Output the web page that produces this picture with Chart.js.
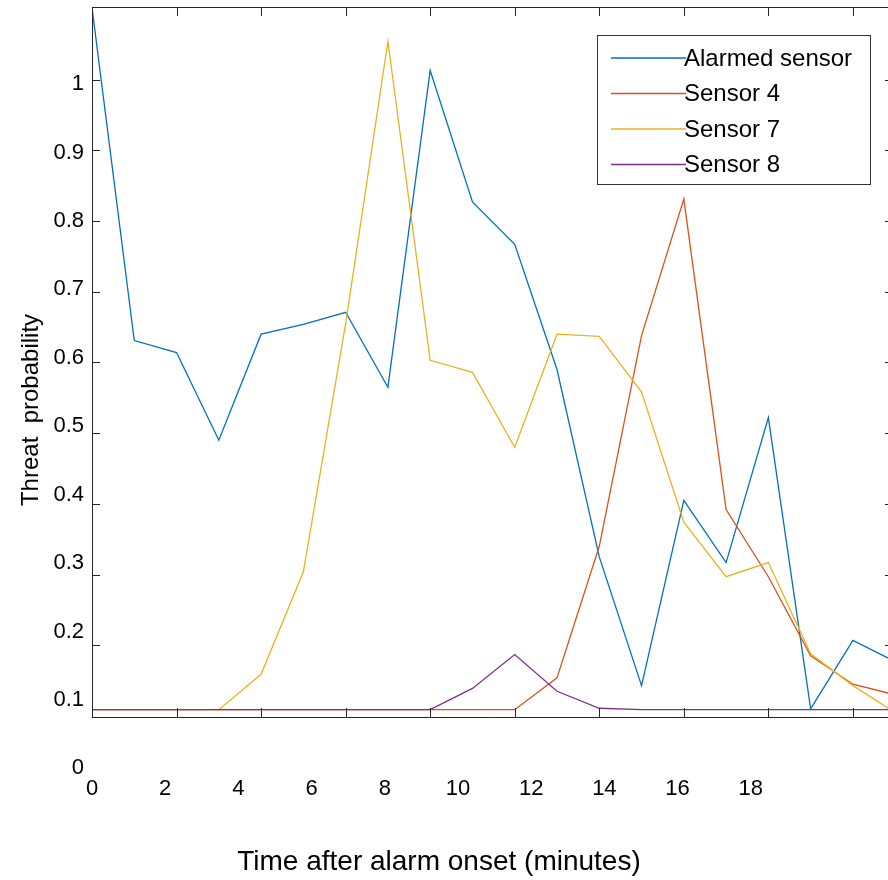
<!DOCTYPE html>
<html>
<head>
<meta charset="utf-8">
<script src="https://cdn.jsdelivr.net/npm/chart.js@4.4.1/dist/chart.umd.min.js"></script>
<style>
  body { margin: 0; background: #fff; }
  #wrap { width: 888px; height: 880px; }
</style>
</head>
<body>
<div id="wrap"><canvas id="myChart" width="888" height="880"></canvas></div>
<script>
// sample number along the time axis
var sampleIdx = [0, 1, 2, 3, 4, 5, 6, 7, 8, 9, 10, 11, 12, 13, 14, 15, 16, 17, 18, 19];

var seriesNames = ["Alarmed sensor", "Sensor 4", "Sensor 7", "Sensor 8"];
var seriesColors = ["#0072BD", "#D95319", "#EDB120", "#7E2F8E"];

var alarmed = [1.102, 0.631, 0.614, 0.490, 0.640, 0.654, 0.671, 0.565, 1.013, 0.827,
               0.767, 0.590, 0.325, 0.143, 0.405, 0.317, 0.522, 0.110, 0.207, 0.177];
var sensor4 = [0.109, 0.109, 0.109, 0.109, 0.109, 0.109, 0.109, 0.109, 0.109, 0.109,
               0.109, 0.154, 0.340, 0.638, 0.831, 0.392, 0.297, 0.185, 0.145, 0.130];
var sensor7 = [0.109, 0.109, 0.109, 0.109, 0.159, 0.304, 0.655, 1.054, 0.603, 0.586,
               0.480, 0.640, 0.637, 0.558, 0.374, 0.297, 0.317, 0.188, 0.143, 0.105];
var sensor8 = [0.109, 0.109, 0.109, 0.109, 0.109, 0.109, 0.109, 0.109, 0.109, 0.139,
               0.187, 0.135, 0.111, 0.109, 0.109, 0.109, 0.109, 0.109, 0.109, 0.109];

// printed tick labels
var xLabels = [0, 2, 4, 6, 8, 10, 12, 14, 16, 18];
var yLabels = [0, 0.1, 0.2, 0.3, 0.4, 0.5, 0.6, 0.7, 0.8, 0.9, 1];
// tick marks on the box
var xTickMarks = [0, 2, 4, 6, 8, 10, 12, 14, 16, 18];
var yTickMarks = [0.2, 0.3, 0.4, 0.5, 0.6, 0.7, 0.8, 0.9, 1];

var xTitle = 'Time after alarm onset (minutes)';
var yTitle = 'Threat  probability';

var FONT = "'Liberation Sans', Arial, sans-serif";
var AXIS = "#262626";

function toPoints(vals) {
  var out = [];
  for (var i = 0; i < vals.length; i++) out.push({x: sampleIdx[i], y: vals[i]});
  return out;
}

var allSeries = [alarmed, sensor4, sensor7, sensor8];
var datasets = [];
for (var k = 0; k < allSeries.length; k++) {
  datasets.push({
    label: seriesNames[k],
    data: toPoints(allSeries[k]),
    borderColor: seriesColors[k],
    backgroundColor: seriesColors[k],
    borderWidth: 1.3,
    pointRadius: 0,
    tension: 0,
    // later series sit on top, like matlab
    order: allSeries.length - 1 - k
  });
}

function noPad(s) {
  s.paddingTop = 0; s.paddingBottom = 0;
  s.paddingLeft = 0; s.paddingRight = 0;
}

// box, inward tick marks, axis titles and the legend
var boxPlugin = {
  id: 'box',
  afterDraw: function(chart) {
    var c = chart.ctx, a = chart.chartArea;
    var xs = chart.scales.x, ys = chart.scales.y;
    c.save();
    c.strokeStyle = AXIS;
    c.lineWidth = 1;
    c.beginPath();
    c.moveTo(a.left, a.top + 0.5);
    c.lineTo(a.right, a.top + 0.5);
    xTickMarks.forEach(function(v) {
      var px = Math.round(xs.getPixelForValue(v)) + 0.5;
      c.moveTo(px, a.top); c.lineTo(px, a.top + 9);
      c.moveTo(px, a.bottom); c.lineTo(px, a.bottom - 9);
    });
    yTickMarks.forEach(function(v) {
      var py = Math.round(ys.getPixelForValue(v)) + 0.5;
      c.moveTo(a.left, py); c.lineTo(a.left + 8, py);
      c.moveTo(a.right + 5, py); c.lineTo(a.right - 3, py);
    });
    c.stroke();

    // axis titles (not centred on the axes in the original)
    c.fillStyle = "#000";
    c.textAlign = "center";
    c.textBaseline = "middle";
    c.font = "28px " + FONT;
    c.fillText(xTitle, 439, 862);
    c.save();
    c.translate(31, 410);
    c.rotate(-Math.PI / 2);
    c.font = "24px " + FONT;
    c.fillText(yTitle, 0, 0);
    c.restore();

    // legend
    var lx = 597.5, ly = 35.5, lw = 273, lh = 149;
    c.fillStyle = "#fff";
    c.fillRect(lx, ly, lw, lh);
    c.strokeStyle = "#333";
    c.strokeRect(lx, ly, lw, lh);
    c.font = "24px " + FONT;
    c.textBaseline = "middle";
    c.textAlign = "left";
    chart.data.datasets.forEach(function(ds, i) {
      var ry = 58 + i * 35.5;
      c.strokeStyle = ds.borderColor;
      c.lineWidth = 1.3;
      c.beginPath();
      c.moveTo(611, ry); c.lineTo(686, ry);
      c.stroke();
      c.fillStyle = "#000";
      c.fillText(ds.label, 684, ry + 1);
    });
    c.restore();
  }
};

var ctx = document.getElementById('myChart').getContext('2d');
var chart = new Chart(ctx, {
  type: 'line',
  data: { datasets: datasets },
  options: {
    responsive: false,
    animation: false,
    layout: { padding: { top: 7, right: 0, left: 0, bottom: 0 } },
    plugins: { legend: { display: false }, tooltip: { enabled: false } },
    scales: {
      x: {
        type: 'linear', position: 'bottom', weight: 0,
        min: 0, max: 18.83,
        grid: { display: false, drawTicks: false },
        border: { display: true, color: AXIS, width: 1 },
        ticks: { display: false },
        afterFit: function(s) { s.height = 0; noPad(s); }
      },
      xLab: {
        type: 'linear', position: 'bottom', weight: 1,
        min: 0, max: 21.75,
        grid: { display: false, drawTicks: false },
        border: { display: false },
        afterBuildTicks: function(s) { s.ticks = xLabels.map(function(v) { return {value: v}; }); },
        ticks: {
          autoSkip: false, maxRotation: 0, padding: 59,
          color: "#000", font: { family: FONT, size: 22 },
          callback: function(v) { return String(v); }
        },
        afterFit: function(s) { s.height = 163; noPad(s); }
      },
      y: {
        type: 'linear', position: 'left', weight: 0,
        min: 0.0986, max: 1.1027,
        grid: { display: false, drawTicks: false },
        border: { display: true, color: AXIS, width: 1 },
        ticks: { display: false },
        afterFit: function(s) { s.width = 0; noPad(s); }
      },
      yLab: {
        type: 'linear', position: 'left', weight: 1,
        min: 0.0751, max: 1.1127,
        grid: { display: false, drawTicks: false },
        border: { display: false },
        afterBuildTicks: function(s) { s.ticks = yLabels.map(function(v) { return {value: v}; }); },
        ticks: {
          autoSkip: false, padding: 8,
          color: "#000", font: { family: FONT, size: 22 },
          callback: function(v) { return String(Math.round(v * 10) / 10); }
        },
        afterFit: function(s) { s.width = 92; noPad(s); }
      }
    }
  },
  plugins: [boxPlugin]
});
</script>
</body>
</html>
